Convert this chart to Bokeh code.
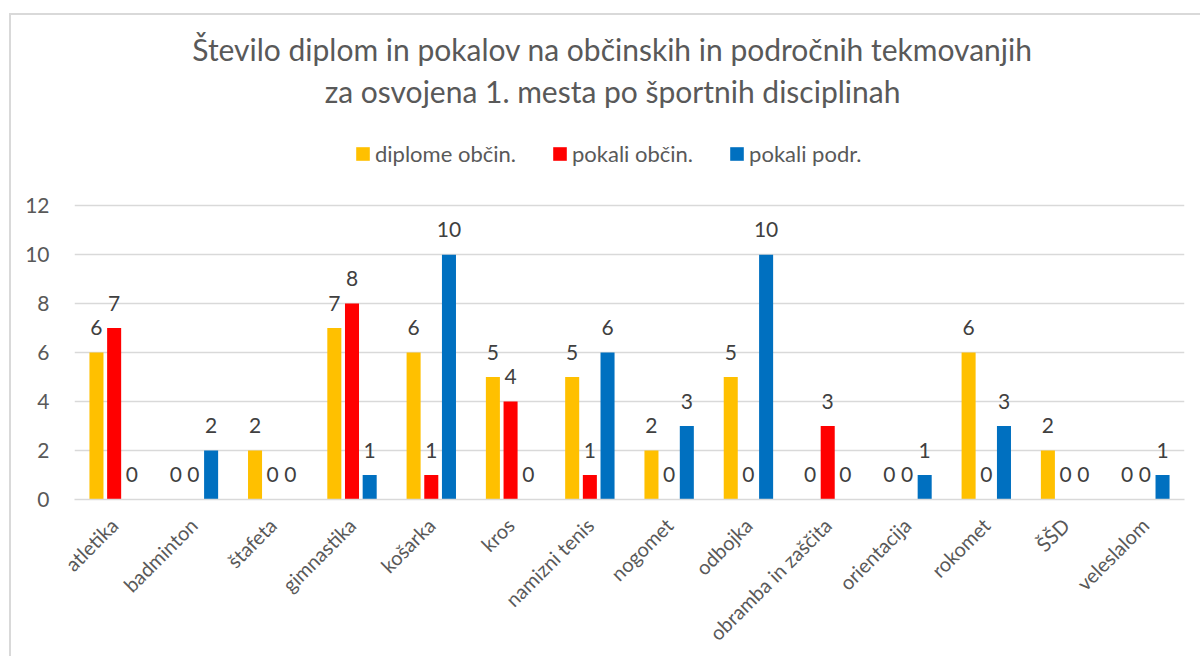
import math
from bokeh.plotting import figure
from bokeh.models import ColumnDataSource, FixedTicker, Legend, LegendItem, Label
from bokeh.transform import dodge
from bokeh.core.properties import value
from bokeh.embed import file_html
from bokeh.resources import INLINE

categories = ["atletika", "badminton", "štafeta", "gimnastika", "košarka", "kros",
              "namizni tenis", "nogomet", "odbojka", "obramba in zaščita",
              "orientacija", "rokomet", "ŠŠD", "veleslalom"]
diplome_obcin = [6, 0, 2, 7, 6, 5, 5, 2, 5, 0, 0, 6, 2, 0]
pokali_obcin = [7, 0, 0, 8, 1, 4, 1, 0, 0, 3, 0, 0, 0, 0]
pokali_podr = [0, 2, 0, 1, 10, 0, 6, 3, 10, 0, 1, 3, 0, 1]
series_names = ["diplome občin.", "pokali občin.", "pokali podr."]
y_ticks = [0, 2, 4, 6, 8, 10, 12]
title_lines = ["Število diplom in pokalov na občinskih in področnih tekmovanjih",
               "za osvojena 1. mesta po športnih disciplinah"]

FONT = "Lato"
TXT = "#595959"
GRID = "#d9d9d9"
colors = ["#FFC000", "#FF0000", "#0070C0"]

src = ColumnDataSource(dict(
    cats=categories,
    s0=diplome_obcin, s1=pokali_obcin, s2=pokali_podr,
    l0=[str(v) for v in diplome_obcin],
    l1=[str(v) for v in pokali_obcin],
    l2=[str(v) for v in pokali_podr],
))

# page layout (pixels)
W, H = 1200, 656
FL, FR, FB = 74, 1184, 501      # plot area left / right / bottom (value 0)
Y12 = 206                        # pixel row of the top gridline (value 12)
px_per_unit = (FB - Y12) / 12.0
y_top = 12 + Y12 / px_per_unit   # frame reaches the top edge; header lives inside it

p = figure(x_range=categories, y_range=(0, y_top), width=W, height=H,
           output_backend="svg", toolbar_location=None,
           min_border_left=FL, min_border_right=W - FR,
           min_border_top=0, min_border_bottom=H - FB)
p.border_fill_color = None
p.background_fill_color = None
p.outline_line_color = None
p.styles = {
    "background": ("linear-gradient(#d9d9d9,#d9d9d9) 9px 13px / 2px 100% no-repeat, "
                   "linear-gradient(#d9d9d9,#d9d9d9) 9px 13px / 100% 2px no-repeat, white"),
}

p.xgrid.grid_line_color = None
p.ygrid.grid_line_color = GRID
p.ygrid.grid_line_width = 1.3
p.ygrid.ticker = FixedTicker(ticks=y_ticks)

p.yaxis.ticker = FixedTicker(ticks=y_ticks)
p.yaxis.axis_line_color = None
p.yaxis.major_tick_line_color = None
p.yaxis.minor_tick_line_color = None
p.yaxis.major_label_standoff = 19
p.yaxis.major_label_text_font = FONT
p.yaxis.major_label_text_font_size = "21px"
p.yaxis.major_label_text_color = TXT

p.xaxis.axis_line_color = GRID
p.xaxis.axis_line_width = 1.3
p.xaxis.major_tick_line_color = None
p.xaxis.major_label_orientation = math.pi / 4
p.xaxis.major_label_standoff = 16
p.xaxis.major_label_text_font = FONT
p.xaxis.major_label_text_font_size = "20px"
p.xaxis.major_label_text_color = TXT

offsets = [-0.223, 0.0, 0.223]
bw = 0.177
renderers = []
for i in range(3):
    r = p.vbar(x=dodge("cats", offsets[i], range=p.x_range), top="s%d" % i,
               width=bw, source=src, fill_color=colors[i], line_color=None)
    renderers.append(r)
    p.text(x=dodge("cats", offsets[i], range=p.x_range), y="s%d" % i, text="l%d" % i,
           source=src, text_align="center", text_baseline="alphabetic",
           y_offset=-25, text_font=value(FONT), text_font_size="21px",
           text_color="#404040")

legend = Legend(items=[LegendItem(label=series_names[i], renderers=[renderers[i]]) for i in range(3)],
                orientation="horizontal", location=(354 - FL, 332),
                glyph_width=17, glyph_height=17, label_height=26, label_standoff=4, spacing=35,
                padding=0, margin=0, label_text_font=FONT, label_text_font_size="22px",
                label_text_color=TXT, border_line_color=None, background_fill_alpha=0)
p.add_layout(legend)

for txt, cy in zip(title_lines, [50, 92]):
    p.add_layout(Label(x=612 - FL, y=FB - cy, x_units="screen", y_units="screen",
                       text=txt, text_align="center", text_baseline="middle",
                       text_font=FONT, text_font_size="30px", text_color=TXT))

open("out.html", "w").write(file_html(p, INLINE))
